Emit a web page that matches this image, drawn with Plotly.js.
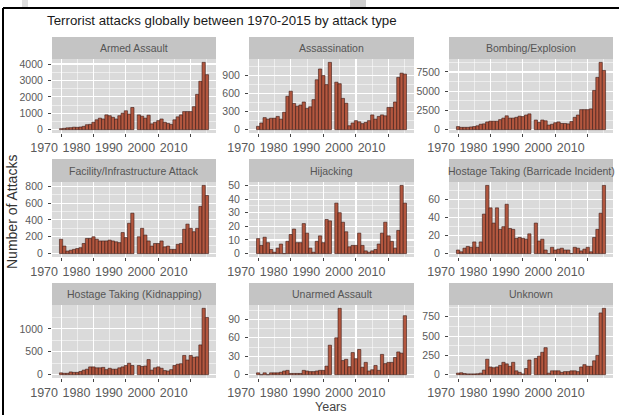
<!DOCTYPE html>
<html><head><meta charset="utf-8">
<script src="https://cdn.plot.ly/plotly-3.0.1.min.js"></script>
<style>html,body{margin:0;padding:0;background:#fff;}#chart{width:619px;height:415px;}</style>
</head><body><div id="chart"></div>
<script>
// ---- data ----
const years = [1970,1971,1972,1973,1974,1975,1976,1977,1978,1979,1980,1981,1982,1983,1984,1985,1986,1987,1988,1989,1990,1991,1992,
               1994,1995,1996,1997,1998,1999,2000,2001,2002,2003,2004,2005,2006,2007,2008,2009,2010,2011,2012,2013,2014,2015];
const facetTitles = ['Armed Assault','Assassination','Bombing/Explosion','Facility/Infrastructure Attack','Hijacking',
                     'Hostage Taking (Barricade Incident)','Hostage Taking (Kidnapping)','Unarmed Assault','Unknown'];
const armedAssault = [60,80,110,120,150,140,160,200,300,320,450,600,700,650,900,850,750,650,850,1000,1150,950,1350,
                      900,820,700,880,350,450,550,650,450,380,320,600,780,900,1100,1100,1100,1400,2150,2950,4100,3350];
const assassination = [55,110,200,175,190,190,220,175,290,555,640,435,390,410,460,355,380,500,830,1010,900,750,1120,
                       790,765,520,440,65,110,150,130,100,120,150,245,175,220,245,230,370,370,460,870,940,925];
const bombing = [400,300,300,300,350,400,500,700,750,1000,1100,1100,1100,1300,1500,1800,1500,1500,1600,1750,1700,1900,2050,
                 1250,950,1250,1150,600,700,900,1000,800,800,750,1050,1600,1900,2600,2600,2600,2700,5100,6800,8750,7700];
const facility = [170,90,30,40,50,60,70,120,180,180,200,170,150,150,150,160,150,140,130,250,190,360,480,
                  200,300,220,150,90,120,120,150,80,90,50,50,110,120,290,350,300,260,300,560,810,690];
const hijacking = [11,6,12,8,3,1,4,7,0,9,14,18,8,8,22,15,4,1,9,13,8,25,24,
                   37,30,23,16,5,6,6,15,6,2,1,2,3,7,15,23,13,9,4,17,50,37];
const barricade = [4,2,6,8,7,13,7,13,44,76,51,34,51,27,30,55,28,27,17,18,17,16,22,
                   34,14,16,4,0,7,4,5,6,4,4,0,7,6,3,5,7,2,18,27,45,76];
const kidnapping = [40,30,30,60,50,50,70,100,120,170,170,150,150,160,110,140,120,120,150,170,200,250,200,
                    200,180,190,330,100,150,170,140,90,80,110,200,230,240,420,320,420,380,390,650,1450,1250];
const unarmed = [3,0,3,0,3,3,3,4,6,7,2,2,2,2,7,6,5,5,6,7,7,14,48,
                 60,108,23,25,13,36,26,41,12,20,6,8,15,7,33,18,20,20,28,37,35,96];
const unknown = [20,25,15,10,10,10,12,20,60,200,100,90,100,120,160,140,110,160,50,30,10,80,190,
                 210,240,290,350,20,50,50,50,30,40,40,50,50,40,100,130,110,110,180,250,800,860];
const xTickVals = [1970,1980,1990,2000,2010];
const xTickText = ['1970','1980','1990','2000','2010'];
const yTickSteps = [1000,300,2500,200,10,20,500,30,250];
const seriesList = [armedAssault,assassination,bombing,facility,hijacking,barricade,kidnapping,unarmed,unknown];

// ---- layout geometry (pixels) ----
const W = 619, H = 415;
const cols = [[52,216],[249,414],[449,613]];
const rows = [[59,133],[182,257],[305,378]];
const strips = [[37,59],[159,182],[283,305]];
const fx = p => p / W;
const fy = p => 1 - p / H;

const FONT = 'Liberation Sans, Arial, sans-serif';
const traces = [];
const layout = {
  width: W, height: H,
  margin: {l:0, r:0, t:0, b:0},
  paper_bgcolor: '#ffffff',
  plot_bgcolor: '#dadada',
  bargap: 0,
  showlegend: false,
  font: {family: FONT},
  title: {text: 'Terrorist attacks globally between 1970-2015 by attack type',
          x: fx(47), xanchor: 'left', xref: 'paper', y: fy(20), yanchor: 'middle', yref: 'paper',
          font: {size: 13.3, color: '#1a1a1a', family: FONT}},
  shapes: [],
  annotations: []
};

seriesList.forEach((vals, i) => {
  const n = i + 1;
  const c = cols[i % 3], r = rows[Math.floor(i / 3)], s = strips[Math.floor(i / 3)];
  const xa = 'x' + (n === 1 ? '' : n), ya = 'y' + (n === 1 ? '' : n);
  traces.push({
    type: 'bar', x: years, y: vals, xaxis: xa, yaxis: ya,
    marker: {color: '#b3573f', line: {color: '#3b1a14', width: 0.6}},
    hoverinfo: 'skip'
  });
  const m = Math.max(...vals);
  const step = yTickSteps[i];
  const yTicks = [];
  for (let v = 0; v <= m; v += step) yTicks.push(v);
  layout['xaxis' + (n === 1 ? '' : n)] = {
    domain: [fx(c[0]), fx(c[1])], anchor: ya,
    range: [1967.2, 2017.8],
    tickmode: 'array', tickvals: xTickVals, ticktext: xTickText,
    ticks: 'outside', ticklen: 3, tickwidth: 1, tickcolor: '#444',
    tickfont: {size: 12.5, color: '#5a5a5a', family: FONT},
    ticklabelshift: -17,
    showgrid: true, gridcolor: '#ffffff', gridwidth: 1.1,
    minor: {tickmode: 'linear', tick0: 1965, dtick: 5, showgrid: true, gridcolor: '#ffffff', gridwidth: 0.5, ticks: ''},
    zeroline: false, showline: false, fixedrange: true
  };
  layout['yaxis' + (n === 1 ? '' : n)] = {
    domain: [fy(r[1]), fy(r[0])], anchor: xa,
    range: [-0.05 * m, 1.05 * m],
    tickmode: 'array', tickvals: yTicks, ticktext: yTicks.map(String),
    ticks: 'outside', ticklen: 3, tickwidth: 1, tickcolor: '#444',
    tickfont: {size: 10.5, color: '#5a5a5a', family: FONT},
    ticklabelstandoff: 3,
    showgrid: true, gridcolor: '#ffffff', gridwidth: 1.1,
    minor: {tickmode: 'linear', tick0: step / 2, dtick: step, showgrid: true, gridcolor: '#ffffff', gridwidth: 0.5, ticks: ''},
    zeroline: false, showline: false, fixedrange: true
  };
  layout.shapes.push({type: 'rect', xref: 'paper', yref: 'paper',
    x0: fx(c[0]), x1: fx(c[1]), y0: fy(s[1]), y1: fy(s[0]),
    fillcolor: '#c4c4c4', line: {width: 0}});
  layout.annotations.push({xref: 'paper', yref: 'paper', x: fx((c[0] + c[1]) / 2), y: fy((s[0] + s[1]) / 2),
    xanchor: 'center', yanchor: 'middle', showarrow: false, text: facetTitles[i],
    font: {size: 10.5, color: '#555', family: FONT}});
});

// axis titles
layout.annotations.push({xref: 'paper', yref: 'paper', x: fx(331), y: fy(407), xanchor: 'center', yanchor: 'middle',
  showarrow: false, text: 'Years', font: {size: 12.5, color: '#444', family: FONT}});
layout.annotations.push({xref: 'paper', yref: 'paper', x: fx(12), y: fy(212), xanchor: 'center', yanchor: 'middle',
  showarrow: false, textangle: -90, text: 'Number of Attacks', font: {size: 14, color: '#333', family: FONT}});

// frame lines
layout.shapes.push({type: 'line', xref: 'paper', yref: 'paper', x0: fx(3), x1: 1, y0: fy(8), y1: fy(8), line: {color: '#000', width: 2}});
layout.shapes.push({type: 'line', xref: 'paper', yref: 'paper', x0: fx(3), x1: fx(3), y0: fy(8), y1: 0, line: {color: '#000', width: 2}});
layout.shapes.push({type: 'rect', xref: 'paper', yref: 'paper', x0: fx(22), x1: fx(28), y0: fy(7), y1: 1, fillcolor: '#dedede', line: {width: 0}});
layout.shapes.push({type: 'rect', xref: 'paper', yref: 'paper', x0: fx(350), x1: fx(366), y0: fy(7), y1: 1, fillcolor: '#cfcfcf', line: {width: 0}});

Plotly.newPlot('chart', traces, layout, {staticPlot: true, displayModeBar: false});
</script>
</body></html>
